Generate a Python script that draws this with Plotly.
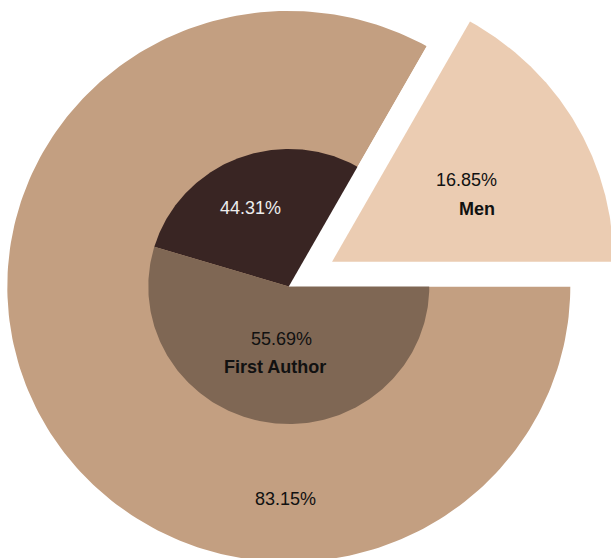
import numpy as np
import plotly.graph_objects as go

# Outer ring: share of men vs. women; inner pie: first-author split
outer_labels = ["Men", "Women"]
outer_values = [16.85, 83.15]
inner_labels = ["Other Authors", "First Author"]
inner_values = [44.31, 55.69]

outer_colors = ["#EBCCB2", "#C39F81"]
inner_colors = ["#392523", "#7F6754"]

W, H = 611, 558
CX, CY = 288.8, 286.5    # pie centre on the page (px)
SY = 0.979               # vertical px per unit (slightly flattened circle)
R_OUT, R_IN = 281.5, 140.5
PULL = 0.178             # explode distance of the first outer slice, as fraction of radius
INNER_START = 163.2      # angle (deg) where the inner slices meet on the left
FONT = "Liberation Sans, Arial, sans-serif"


def wedge(a0, a1, r, cx=0.0, cy=0.0, n=240):
    t = np.radians(np.linspace(a0, a1, n))
    x = np.concatenate([[cx], cx + r * np.cos(t), [cx]])
    y = np.concatenate([[cy], cy + r * np.sin(t), [cy]])
    return x, y


def page(xp, yp):
    """Page pixel position -> data units."""
    return xp - CX, (CY - yp) / SY


fig = go.Figure()

# ---- outer pie -------------------------------------------------------------
tot_o = sum(outer_values)
men_span = 360.0 * outer_values[0] / tot_o

# women slice: from the end of the men slice all the way round to 3 o'clock
x, y = wedge(men_span, 360.0, R_OUT)
fig.add_trace(go.Scatter(x=x, y=y, fill="toself", mode="lines",
                         line=dict(width=0), fillcolor=outer_colors[1],
                         hoverinfo="text",
                         text=f"{outer_labels[1]}: {outer_values[1]:.2f}%"))

# ---- inner pie -------------------------------------------------------------
tot_i = sum(inner_values)
span0 = 360.0 * inner_values[0] / tot_i
span1 = 360.0 * inner_values[1] / tot_i
inner_spans = [(INNER_START - span0, INNER_START), (INNER_START, INNER_START + span1)]
for (a0, a1), lab, val, col in zip(inner_spans, inner_labels, inner_values, inner_colors):
    x, y = wedge(a0, a1, R_IN)
    fig.add_trace(go.Scatter(x=x, y=y, fill="toself", mode="lines",
                             line=dict(width=0), fillcolor=col,
                             hoverinfo="text", text=f"{lab}: {val:.2f}%"))

# space left behind by the exploded slice
x, y = wedge(0.0, men_span, R_OUT + 2)
fig.add_trace(go.Scatter(x=x, y=y, fill="toself", mode="lines",
                         line=dict(width=0), fillcolor="#FFFFFF", hoverinfo="skip"))

# exploded men slice
mid = np.radians(men_span / 2)
ox, oy = PULL * R_OUT * np.cos(mid), PULL * R_OUT * np.sin(mid)
x, y = wedge(0.0, men_span, R_OUT, ox, oy)
fig.add_trace(go.Scatter(x=x, y=y, fill="toself", mode="lines",
                         line=dict(width=0), fillcolor=outer_colors[0],
                         hoverinfo="text",
                         text=f"{outer_labels[0]}: {outer_values[0]:.2f}%"))

# ---- labels ----------------------------------------------------------------
def label(xp, yp, text, color="#111111", bold=False):
    ax_, ay_ = page(xp, yp)
    fig.add_annotation(x=ax_, y=ay_, text=f"<b>{text}</b>" if bold else text,
                       showarrow=False, xanchor="center", yanchor="middle",
                       font=dict(family=FONT, size=18, color=color))

label(466.5, 180, f"{outer_values[0]:.2f}%")
label(476.7, 208.5, outer_labels[0], bold=True)
label(285.5, 499, f"{outer_values[1]:.2f}%")
label(250.3, 207.5, f"{inner_values[0]:.2f}%", color="#EDEDED")
label(281.0, 339, f"{inner_values[1]:.2f}%")
label(275.0, 366.5, inner_labels[1], bold=True)

fig.update_layout(
    width=W, height=H,
    margin=dict(l=0, r=0, t=0, b=0),
    paper_bgcolor="white", plot_bgcolor="white",
    showlegend=False,
    xaxis=dict(range=[-CX, W - CX], visible=False, fixedrange=True),
    yaxis=dict(range=[-(H - CY) / SY, CY / SY], visible=False, fixedrange=True),
)

fig.write_html("out.html")
